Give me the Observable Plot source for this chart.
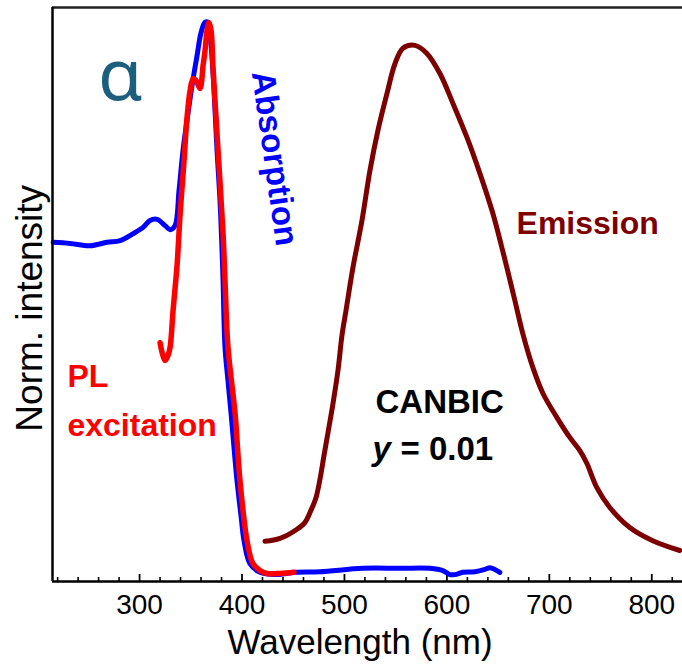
<!DOCTYPE html>
<html>
<head>
<meta charset="utf-8">
<script src="https://cdn.jsdelivr.net/npm/d3@7"></script>
<script src="https://cdn.jsdelivr.net/npm/@observablehq/plot@0.6"></script>
<style>
  html, body { margin: 0; padding: 0; background: #fff; }
  #chart svg { display: block; }
</style>
</head>
<body>
<div id="chart"></div>
<script>
// Absorption (blue)
const absWl = [215.6, 232.2, 251.7, 268.3, 281.0, 293.7, 303.4, 310.2, 317.1, 324.9, 329.8, 334.6, 338.5, 342.4, 346.3, 351.2, 356.1, 360.0, 363.9, 366.8, 369.8, 372.7, 375.6, 378.5, 380.5, 381.5, 383.4, 386.3, 389.3, 392.2, 395.1, 399.0, 402.0, 407.8, 417.6, 432.2, 451.7, 476.1, 518.0, 554.1, 583.4, 596.1, 602.9, 607.8, 615.6, 627.3, 637.1, 642.0, 646.8, 651.7];
const absVal = [0.591, 0.589, 0.585, 0.591, 0.594, 0.606, 0.617, 0.629, 0.631, 0.620, 0.613, 0.620, 0.681, 0.751, 0.803, 0.864, 0.916, 0.956, 0.974, 0.974, 0.934, 0.855, 0.751, 0.664, 0.577, 0.524, 0.408, 0.350, 0.293, 0.233, 0.176, 0.115, 0.071, 0.031, 0.016, 0.012, 0.016, 0.017, 0.023, 0.023, 0.023, 0.019, 0.012, 0.012, 0.016, 0.017, 0.021, 0.024, 0.021, 0.016];

// PL excitation (red)
const plWl = [320.0, 322.0, 324.9, 327.8, 329.8, 332.7, 336.6, 339.5, 343.4, 346.3, 349.3, 352.2, 355.1, 359.0, 362.0, 363.9, 365.9, 367.8, 369.8, 371.7, 376.6, 381.5, 383.4, 386.3, 393.2, 398.0, 404.9, 410.7, 417.6, 424.4, 437.1, 450.7];
const plVal = [0.416, 0.399, 0.385, 0.394, 0.408, 0.472, 0.551, 0.638, 0.733, 0.808, 0.855, 0.876, 0.873, 0.859, 0.899, 0.925, 0.960, 0.974, 0.960, 0.895, 0.751, 0.606, 0.524, 0.408, 0.293, 0.176, 0.071, 0.031, 0.019, 0.014, 0.014, 0.016];

// Emission (dark red)
const emWl = [422.4, 437.1, 453.7, 461.5, 467.3, 472.2, 476.1, 480.0, 483.9, 488.8, 493.7, 497.6, 501.5, 508.3, 517.1, 524.9, 532.7, 541.5, 549.3, 557.1, 568.8, 580.5, 593.2, 605.9, 619.5, 632.2, 644.9, 655.6, 666.3, 674.1, 683.9, 693.7, 707.3, 720.0, 729.8, 736.6, 746.3, 759.0, 778.5, 801.0, 827.3];
const emVal = [0.070, 0.075, 0.091, 0.103, 0.124, 0.146, 0.178, 0.219, 0.259, 0.310, 0.368, 0.429, 0.472, 0.547, 0.629, 0.716, 0.786, 0.850, 0.902, 0.929, 0.934, 0.920, 0.885, 0.833, 0.774, 0.711, 0.641, 0.568, 0.490, 0.432, 0.373, 0.328, 0.286, 0.251, 0.228, 0.206, 0.164, 0.129, 0.094, 0.071, 0.054];

// Axis ticks
const majorTicks = [300, 400, 500, 600, 700, 800];
const minorTicks = [220, 240, 260, 280, 320, 340, 360, 380, 420, 440, 460, 480, 520, 540, 560, 580, 620, 640, 660, 680, 720, 740, 760, 780, 820];

// Texts
const xTitle = "Wavelength (nm)";
const yTitle = "Norm. intensity";
const panelLetter = "α";
const absLabel = "Absorption";
const emLabel = "Emission";
const plLabel = ["PL", "excitation"];
const sampleName = "CANBIC";
const yVar = "y";
const yValueText = "= 0.01";

const toRows = (xs, ys) => xs.map((x, i) => ({x, y: ys[i]}));
const absRows = toRows(absWl, absVal);
const plRows = toRows(plWl, plVal);
const emRows = toRows(emWl, emVal);

const FONT = "Liberation Sans, Arial, Helvetica, sans-serif";

const chart = Plot.plot({
  width: 682,
  height: 664,
  marginLeft: 52,
  marginRight: 0,
  marginTop: 7,
  marginBottom: 83,
  style: {fontFamily: FONT, background: "#fff", color: "#000", overflow: "visible"},
  x: {domain: [215, 830]},
  y: {domain: [0, 1], axis: null},
  marks: [
    Plot.axisX(minorTicks, {tickSize: -4, strokeWidth: 1.6, tickFormat: () => "", label: null}),
    Plot.axisX(majorTicks, {tickSize: -7, strokeWidth: 1.8, tickPadding: 20, fontSize: 28, tickFormat: d => String(d), label: null, fill: "#000"}),
    Plot.line(absRows, {x: "x", y: "y", stroke: "#0000ff", strokeWidth: 5, curve: "catmull-rom"}),
    Plot.line(plRows, {x: "x", y: "y", stroke: "#ff0000", strokeWidth: 5.5, curve: "catmull-rom"}),
    Plot.line(emRows, {x: "x", y: "y", stroke: "#7d0000", strokeWidth: 5, curve: "catmull-rom", clip: true}),
    Plot.ruleY([0], {stroke: "#000", strokeWidth: 2.5}),
    Plot.ruleY([1], {stroke: "#222", strokeWidth: 2.5}),
    Plot.ruleX([215], {stroke: "#000", strokeWidth: 2.5}),
    // axis titles
    Plot.text([xTitle], {x: 385.8, y: -0.127, text: d => d, textAnchor: "start", lineAnchor: "bottom", fontSize: 35, fill: "#000"}),
    Plot.text([yTitle], {x: 205.2, y: 0.476, text: d => d, rotate: -90, textAnchor: "middle", lineAnchor: "bottom", fontSize: 37, fill: "#000"}),
    // annotations
    Plot.text([panelLetter], {x: 281.4, y: 0.838, text: d => d, textAnchor: "middle", lineAnchor: "bottom", fontSize: 72, fontFamily: "Noto Sans, Open Sans, sans-serif", fill: "#1b5e7d"}),
    Plot.text([absLabel], {x: 431.7, y: 0.737, text: d => d, rotate: 82, textAnchor: "middle", lineAnchor: "middle", fontSize: 33, fontWeight: "bold", fill: "#0000ff"}),
    Plot.text([emLabel], {x: 668, y: 0.606, text: d => d, textAnchor: "start", lineAnchor: "bottom", fontSize: 32, fontWeight: "bold", fill: "#7d0000"}),
    Plot.text([plLabel[0]], {x: 229.6, y: 0.338, text: d => d, textAnchor: "start", lineAnchor: "bottom", fontSize: 32, fontWeight: "bold", fill: "#ff0000"}),
    Plot.text([plLabel[1]], {x: 229.6, y: 0.254, text: d => d, textAnchor: "start", lineAnchor: "bottom", fontSize: 32, fontWeight: "bold", fill: "#ff0000"}),
    Plot.text([sampleName], {x: 530.3, y: 0.294, text: d => d, textAnchor: "start", lineAnchor: "bottom", fontSize: 33, fontWeight: "bold", fill: "#000"}),
    Plot.text([yVar], {x: 527.4, y: 0.211, text: d => d, textAnchor: "start", lineAnchor: "bottom", fontSize: 33, fontWeight: "bold", fontStyle: "italic", fill: "#000"}),
    Plot.text([yValueText], {x: 554.7, y: 0.211, text: d => d, textAnchor: "start", lineAnchor: "bottom", fontSize: 33, fontWeight: "bold", fill: "#000"})
  ]
});
document.getElementById("chart").appendChild(chart);
</script>
</body>
</html>
